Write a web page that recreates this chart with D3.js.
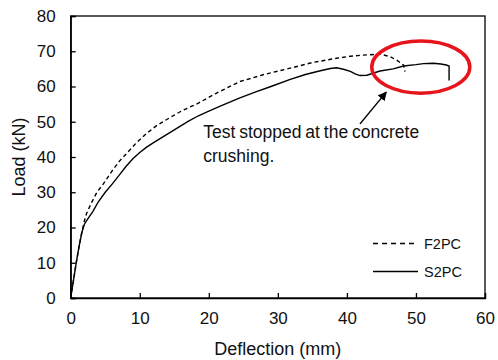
<!DOCTYPE html>
<html><head><meta charset="utf-8">
<script src="https://cdn.jsdelivr.net/npm/d3@7"></script>
<style>body{margin:0;background:#fff}svg{display:block}text{font-family:"Liberation Sans",Arial,sans-serif;fill:#111}</style>
</head><body>
<svg id="c" width="498" height="360"></svg>
<script>
const xTicks=[0,10,20,30,40,50,60];
const yTicks=[0,10,20,30,40,50,60,70,80];
const seriesNames=["F2PC","S2PC"];
const f2pcX=[0,0.4,0.8,1.2,1.6,2.0,2.3,3.0,3.8,4.7,5.9,7.0,8.1,9.5,11.0,12.5,14.4,16.0,18.5,21.0,24.5,28.0,31.8,35.0,38.5,40.5,42.4,44.8,46.2,47.2,48.2,48.4];
const f2pcY=[0,5,10,14.5,18.5,22,24,27,30,32.3,35.8,38.7,41,44,46.7,49,51.2,53,55.3,58,61.4,63.4,65.2,66.8,68.0,68.6,68.9,69.2,68.5,67.5,66.1,64.2];
const s2pcX=[0,0.4,0.8,1.2,1.6,2.0,2.6,3.2,4.0,5.0,6.0,7.0,8.0,9.0,10.0,11.0,12.0,13.0,14.0,15.0,16.0,17.0,18.5,20.0,22.0,24.5,27.0,29.0,31.8,34.0,36.0,37.6,38.5,39.5,40.5,41.2,41.9,42.9,44.0,44.8,46.7,48.2,50.0,51.1,52.5,53.6,54.4,54.8,54.8];
const s2pcY=[0,5,10,14.5,18.5,21,22.8,24.5,27.3,30,32.3,34.8,37.3,39.5,41.3,42.8,44.1,45.3,46.5,47.7,48.9,50.1,51.7,53,54.7,56.8,58.6,60,62,63.4,64.4,65.1,65.3,64.9,64.3,63.6,63.1,63.2,63.9,64.4,65,65.8,66.2,66.5,66.6,66.4,66.1,65.8,61.7];
const annotLines=["Test stopped at the concrete","crushing."];

const svg=d3.select("#c");
const x=d3.scaleLinear().domain([0,60]).range([70.7,485]);
const y=d3.scaleLinear().domain([0,80]).range([298,16]);

// frame
svg.append("rect").attr("x",x(0)).attr("y",y(80)).attr("width",x(60)-x(0)).attr("height",y(0)-y(80))
  .attr("fill","none").attr("stroke","#000").attr("stroke-width",1.3);

const xa=svg.append("g").attr("transform",`translate(0,${y(0)})`)
  .call(d3.axisBottom(x).tickValues(xTicks).tickSize(-5).tickPadding(14).tickFormat(d3.format("d")));
const ya=svg.append("g").attr("transform",`translate(${x(0)},0)`)
  .call(d3.axisLeft(y).tickValues(yTicks).tickSize(-5).tickPadding(15).tickFormat(d3.format("d")));
[xa,ya].forEach(a=>{a.select(".domain").attr("stroke","#000").attr("stroke-width",1.3);
  a.selectAll(".tick line").attr("stroke","#000").attr("stroke-width",1.3);
  a.selectAll(".tick text").style("font-size","17px").attr("fill","#111");});

svg.append("text").attr("x",(x(0)+x(60))/2).attr("y",355).attr("text-anchor","middle").style("font-size","18px").text("Deflection (mm)");
svg.append("text").attr("transform",`translate(25,${(y(0)+y(80))/2}) rotate(-90)`).attr("text-anchor","middle").style("font-size","18px").text("Load (kN)");

const line=d3.line().x(d=>x(d[0])).y(d=>y(d[1]));
const f2=f2pcX.map((v,i)=>[v,f2pcY[i]]);
const s2=s2pcX.map((v,i)=>[v,s2pcY[i]]);
svg.append("path").datum(f2).attr("d",line).attr("fill","none").attr("stroke","#000").attr("stroke-width",1.4).attr("stroke-dasharray","4,3");
svg.append("path").datum(s2).attr("d",line).attr("fill","none").attr("stroke","#000").attr("stroke-width",1.4);

// legend
const dashes=["5,4",null];
const lg=svg.append("g");
seriesNames.forEach((n,i)=>{
  const ly=243.5+i*28;
  lg.append("line").attr("x1",373).attr("x2",418).attr("y1",ly).attr("y2",ly).attr("stroke","#000").attr("stroke-width",1.3).attr("stroke-dasharray",dashes[i]);
  lg.append("text").attr("x",424).attr("y",ly+5).style("font-size","14.5px").text(n);
});

// ellipse
const ec=[50.7,65.5], erx=7.1, ery=7.4;
svg.append("ellipse").attr("cx",x(ec[0])).attr("cy",y(ec[1])).attr("rx",x(erx)-x(0)).attr("ry",y(0)-y(ery))
  .attr("fill","none").attr("stroke","#e8141c").attr("stroke-width",3.5);

// arrow
svg.append("defs").append("marker").attr("id","ah").attr("viewBox","0 0 10 10").attr("refX",9).attr("refY",5)
  .attr("markerWidth",9).attr("markerHeight",9).attr("markerUnits","userSpaceOnUse").attr("orient","auto")
  .append("path").attr("d","M0,0L10,5L0,10z").attr("fill","#000");
const tail=[41.9,49.4], tip=[45.7,58.4];
svg.append("line").attr("x1",x(tail[0])).attr("y1",y(tail[1])).attr("x2",x(tip[0])).attr("y2",y(tip[1]))
  .attr("stroke","#000").attr("stroke-width",1.5).attr("marker-end","url(#ah)");

const tx=19.2, ty=[45.3,38.7];
annotLines.forEach((t,i)=>svg.append("text").attr("x",x(tx)).attr("y",y(ty[i])).style("font-size","17.5px").style("word-spacing","-1px").text(t));
</script>
</body></html>
